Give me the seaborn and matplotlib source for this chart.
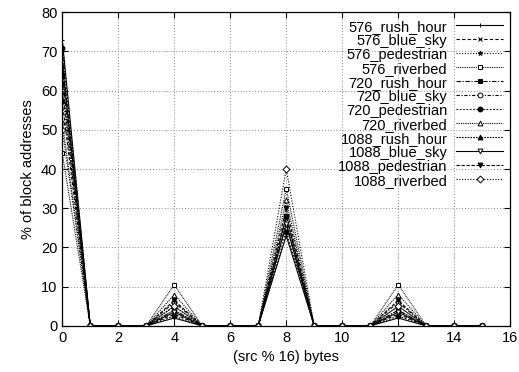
"""Share of block addresses by (src % 16) offset, per resolution/sequence."""
import matplotlib
matplotlib.use("Agg")
import matplotlib.pyplot as plt
import numpy as np
import pandas as pd
import seaborn as sns

offsets = list(range(16))
series_names = [
    "576_rush_hour", "576_blue_sky", "576_pedestrian", "576_riverbed",
    "720_rush_hour", "720_blue_sky", "720_pedestrian", "720_riverbed",
    "1088_rush_hour", "1088_blue_sky", "1088_pedestrian", "1088_riverbed",
]
# values at offsets 0, 4, 8, 12 (all other offsets are 0)
peak_0 = [73, 68, 66, 44, 64, 60, 71, 52, 62, 67, 57, 50]
peak_4 = [2, 3, 4, 10.5, 4, 6, 2.5, 8, 5, 3.5, 6.5, 5]
peak_8 = [23, 26, 26, 35, 28, 28, 24, 32, 28, 26, 30, 40]
peak_12 = [2, 3, 4, 10.5, 4, 6, 2.5, 8, 5, 3.5, 6.5, 5]

rows = []
for i, name in enumerate(series_names):
    vals = np.zeros(16)
    vals[0], vals[4], vals[8], vals[12] = peak_0[i], peak_4[i], peak_8[i], peak_12[i]
    for x, v in zip(offsets, vals):
        rows.append({"series": name, "offset": x, "pct": v})
df = pd.DataFrame(rows)

# gnuplot-like line styles
styles = [
    ("-", "+", "black", "black"),
    ((0, (3, 2)), "x", "black", "black"),
    ((0, (1, 1.5)), "*", "black", "black"),
    ((0, (0.8, 0.8)), "s", "white", "black"),
    ((0, (4, 1.5, 1, 1.5)), "s", "black", "black"),
    ((0, (3, 1.5, 1, 1.5)), "o", "white", "black"),
    ((0, (1.5, 1.5)), "o", "black", "black"),
    ((0, (1, 1)), "^", "white", "black"),
    ((0, (1.5, 1)), "^", "black", "black"),
    ("-", "v", "white", "black"),
    ((0, (3, 1.5)), "v", "black", "black"),
    ((0, (1, 1.5)), "D", "white", "black"),
]

plt.rcParams["font.family"] = ["Liberation Sans", "DejaVu Sans"]
plt.rcParams["font.size"] = 10.5

fig, ax = plt.subplots(figsize=(5.19, 3.72), dpi=100)
for name, (ls, mk, mfc, mec) in zip(series_names, styles):
    sub = df[df["series"] == name]
    sns.lineplot(data=sub, x="offset", y="pct", ax=ax, color="black",
                 linestyle=ls, linewidth=0.8, marker=mk, markersize=3.5,
                 markerfacecolor=mfc, markeredgecolor=mec, markeredgewidth=0.7,
                 label=name)

ax.set_xlim(0, 16)
ax.set_ylim(0, 80)
ax.set_xticks(range(0, 17, 2))
ax.set_yticks(range(0, 81, 10))
ax.grid(True, color="#888888", linestyle=(0, (1, 2)), linewidth=0.7)
ax.tick_params(direction="in", top=True, right=True, length=4, labelsize=10.5)
for sp in ax.spines.values():
    sp.set_linewidth(0.9)
ax.set_xlabel("(src % 16) bytes", fontsize=10.5)
ax.set_ylabel("% of block addresses", fontsize=10.5)

leg = ax.legend(loc="upper right", frameon=False, markerfirst=False,
                handlelength=3.2, handletextpad=0.6, labelspacing=0.0,
                borderaxespad=0.2, borderpad=0.3, fontsize=10.5)

fig.subplots_adjust(left=0.12, right=0.983, top=0.967, bottom=0.124)
fig.savefig("out.png", dpi=100)
plt.close(fig)
